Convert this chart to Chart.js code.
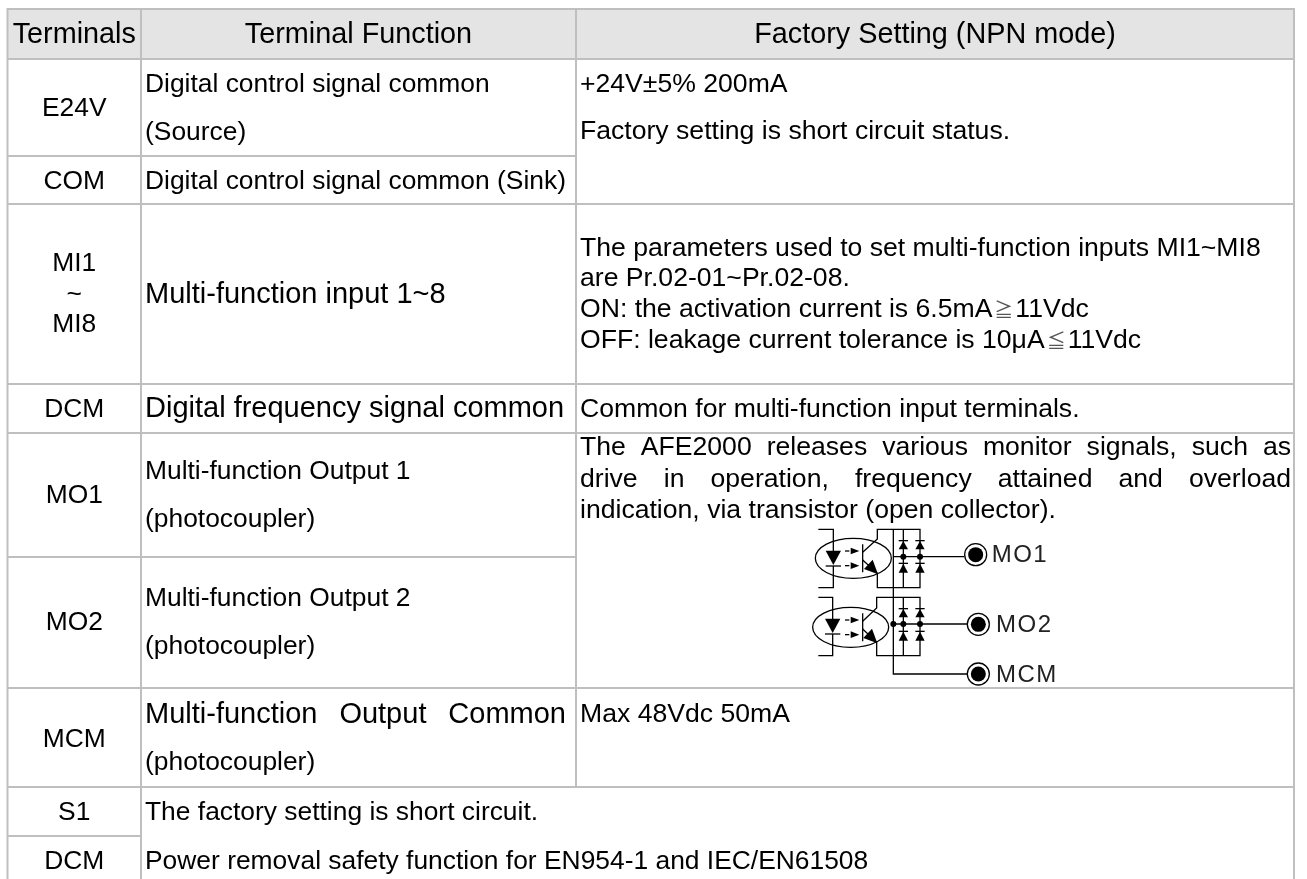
<!DOCTYPE html>
<html>
<head>
<meta charset="utf-8">
<title>Terminals</title>
<script src="https://cdn.jsdelivr.net/npm/chart.js@4/dist/chart.umd.js"></script>
<style>
body { margin: 0; background: #fff; }
canvas { display: block; }
</style>
</head>
<body>
<canvas id="myChart" width="1307" height="879"></canvas>
<script>
// table rulings
var colEdges = [7.5, 141, 576, 1294];
var rowEdges = [9, 59, 156, 204, 384, 433, 557, 688, 787, 836, 879];
// which column edge each horizontal rule runs to
var ruleEnds = [3, 3, 2, 3, 3, 3, 2, 3, 3, 1];

var headers = ['Terminals', 'Terminal Function', 'Factory Setting (NPN mode)'];

var terminals = ['E24V', 'COM', 'MI1', '~', 'MI8', 'DCM', 'MO1', 'MO2', 'MCM', 'S1', 'DCM'];
var terminalBase = [116, 189, 271, 302, 332, 417, 503, 630, 747, 820, 869];

var functionLines = [
    'Digital control signal common', '(Source)', 'Digital control signal common (Sink)',
    'Multi-function input 1~8', 'Digital frequency signal common',
    'Multi-function Output 1', '(photocoupler)', 'Multi-function Output 2', '(photocoupler)',
    'Multi-function Output Common', '(photocoupler)',
    'The factory setting is short circuit.', 'Power removal safety function for EN954-1 and IEC/EN61508'
];
var functionBase = [92, 140, 189, 303, 417, 479, 527, 606, 654, 723, 770, 820, 869];
var functionSize = [26.4, 26.4, 26.4, 29, 29, 26.4, 26.4, 26.4, 26.4, 29, 26.4, 26.4, 26.4];

var settingLines = [
    '+24V±5% 200mA', 'Factory setting is short circuit status.',
    'The parameters used to set multi-function inputs MI1~MI8', 'are Pr.02-01~Pr.02-08.',
    'ON: the activation current is 6.5mA≧11Vdc', 'OFF: leakage current tolerance is 10μA≦11Vdc',
    'Common for multi-function input terminals.',
    'The AFE2000 releases various monitor signals, such as',
    'drive in operation, frequency attained and overload',
    'indication, via transistor (open collector).',
    'Max 48Vdc 50mA'
];
var settingBase = [92, 139, 256, 286, 317, 348, 417, 455, 487, 518, 722];
var settingJustified = [false, false, false, false, false, false, false, true, true, false, false];

var outputLabels = ['MO1', 'MO2', 'MCM'];

var fontFamily = '"Liberation Sans", "Noto Sans CJK JP", sans-serif';

// rulings go in as one broken line, NaN leaves the gaps
var ruleData = [];
for (var i = 0; i < ruleEnds.length; i++) {
    ruleData.push({x: colEdges[0] - 1, y: rowEdges[i]});
    ruleData.push({x: colEdges[ruleEnds[i]] + 1, y: rowEdges[i]});
    ruleData.push({x: NaN, y: NaN});
}
var colBottoms = [10, 10, 8, 10];
for (var c = 0; c < colEdges.length; c++) {
    ruleData.push({x: colEdges[c], y: rowEdges[0]});
    ruleData.push({x: colEdges[c], y: rowEdges[colBottoms[c]]});
    ruleData.push({x: NaN, y: NaN});
}

var headerBand = [
    {x: colEdges[0], y: rowEdges[0]},
    {x: colEdges[3], y: rowEdges[0]}
];

function drawLine(ctx, text, x, y, size, align, fitTo) {
    ctx.font = size + 'px ' + fontFamily;
    ctx.textAlign = align;
    if (fitTo) {
        // spread the words out to fill the cell
        var words = text.split(' ');
        var used = 0;
        for (var i = 0; i < words.length; i++) used += ctx.measureText(words[i]).width;
        var gap = (fitTo - used) / (words.length - 1);
        var pos = x;
        for (var j = 0; j < words.length; j++) {
            ctx.fillText(words[j], pos, y);
            pos += ctx.measureText(words[j]).width + gap;
        }
        return;
    }
    var sign = text.search(/[≧≦]/);
    if (sign < 0) {
        ctx.fillText(text, x, y);
        return;
    }
    // the comparison signs are small in the original
    var before = text.slice(0, sign);
    ctx.fillText(before, x, y);
    var at = x + ctx.measureText(before).width + 2;
    ctx.font = '19px ' + fontFamily;
    ctx.fillStyle = '#555';
    ctx.fillText(text.charAt(sign), at, y);
    at += ctx.measureText(text.charAt(sign)).width + 2;
    ctx.font = size + 'px ' + fontFamily;
    ctx.fillStyle = '#000';
    ctx.fillText(text.slice(sign + 1), at, y);
}

var tablePlugin = {
    id: 'tableText',
    afterDatasetsDraw: function (chart) {
        var ctx = chart.ctx;
        var sx = chart.scales.x;
        var sy = chart.scales.y;
        var mid = function (c) { return sx.getPixelForValue((colEdges[c] + colEdges[c + 1]) / 2); };
        ctx.save();
        ctx.fillStyle = '#000';
        ctx.textBaseline = 'alphabetic';

        for (var h = 0; h < headers.length; h++) {
            drawLine(ctx, headers[h], mid(h), sy.getPixelForValue(43), 28.8, 'center');
        }
        for (var t = 0; t < terminals.length; t++) {
            drawLine(ctx, terminals[t], mid(0), sy.getPixelForValue(terminalBase[t]), 26.4, 'center');
        }
        var fx = sx.getPixelForValue(colEdges[1] + 4);
        for (var f = 0; f < functionLines.length; f++) {
            var fit = functionLines[f] == 'Multi-function Output Common' ? 421 : 0;
            drawLine(ctx, functionLines[f], fx, sy.getPixelForValue(functionBase[f]), functionSize[f], 'left', fit);
        }
        var rx = sx.getPixelForValue(colEdges[2] + 4);
        for (var s = 0; s < settingLines.length; s++) {
            drawLine(ctx, settingLines[s], rx, sy.getPixelForValue(settingBase[s]), 26.6, 'left', settingJustified[s] ? colEdges[3] - colEdges[2] - 7 : 0);
        }
        drawSchematic(ctx, sx, sy);
        ctx.restore();
    }
};

// output circuit picture, in units of a third of a pixel from its corner
function drawSchematic(ctx, sx, sy) {
    var px = function (u) { return sx.getPixelForValue(760 + u / 3); };
    var py = function (v) { return sy.getPixelForValue(510 + v / 3); };
    var line = function (pts) {
        ctx.beginPath();
        ctx.moveTo(px(pts[0]), py(pts[1]));
        for (var i = 2; i < pts.length; i += 2) ctx.lineTo(px(pts[i]), py(pts[i + 1]));
        ctx.stroke();
    };
    var solid = function (pts) {
        ctx.beginPath();
        ctx.moveTo(px(pts[0]), py(pts[1]));
        for (var i = 2; i < pts.length; i += 2) ctx.lineTo(px(pts[i]), py(pts[i + 1]));
        ctx.closePath();
        ctx.fill();
    };
    var dot = function (u, v, r) {
        ctx.beginPath();
        ctx.arc(px(u), py(v), r, 0, Math.PI * 2);
        ctx.fill();
    };
    var terminal = function (u, v) {
        ctx.beginPath();
        ctx.arc(px(u), py(v), 11, 0, Math.PI * 2);
        ctx.fillStyle = '#fff';
        ctx.fill();
        ctx.stroke();
        ctx.fillStyle = '#000';
        dot(u, v, 7.5);
    };
    var coupler = function (top, ledX, ellX, ellY, boxL, joint) {
        var bottom = top + 175;
        line([175, top, ledX, top, ledX, top + 65]);
        solid([ledX - 23, top + 64, ledX + 23, top + 64, ledX, top + 107]);
        line([ledX - 23, top + 110, ledX + 23, top + 110]);
        line([ledX, top + 110, ledX, bottom, 175, bottom]);
        ctx.beginPath();
        ctx.ellipse(px(ellX), py(ellY), 38, 20, 0, 0, Math.PI * 2);
        ctx.stroke();
        var ay = [ellY - 22, ellY + 22];
        for (var a = 0; a < 2; a++) {
            line([255, ay[a], 268, ay[a]]);
            solid([272, ay[a] - 10, 298, ay[a], 272, ay[a] + 10]);
        }
        line([308, ellY - 42, 308, ellY + 42]);
        line([308, ellY - 18, boxL, ellY - 58, boxL, top, 480, top, 480, bottom, boxL, bottom, boxL, ellY + 45, 308, ellY + 5]);
        solid([boxL + 2, ellY + 48, boxL - 14, ellY + 4, boxL - 40, ellY + 32]);
        line([430, top, 430, bottom]);
        var diodes = [430, 480];
        for (var d = 0; d < 2; d++) {
            var u = diodes[d];
            line([u - 14, top + 34, u + 14, top + 34]);
            solid([u - 14, top + 60, u + 14, top + 60, u, top + 35]);
            line([u - 14, top + 102, u + 14, top + 102]);
            solid([u - 14, top + 130, u + 14, top + 130, u, top + 103]);
            dot(u, joint, 3);
        }
    };

    ctx.save();
    ctx.strokeStyle = '#000';
    ctx.fillStyle = '#000';
    ctx.lineWidth = 1.3;
    coupler(58, 220, 280, 145, 352, 140);
    coupler(262, 218, 272, 352, 350, 342);
    dot(400, 342, 3);
    line([400, 58, 400, 492, 622, 492]);
    line([400, 140, 612, 140]);
    line([400, 342, 622, 342]);
    terminal(647, 134);
    terminal(655, 343);
    terminal(655, 492);

    ctx.fillStyle = '#222';
    ctx.textAlign = 'left';
    ctx.font = '24px ' + fontFamily;
    ctx.letterSpacing = '1.5px';
    ctx.fillText(outputLabels[0], px(695), py(155));
    ctx.fillText(outputLabels[1], px(708), py(367));
    ctx.fillText(outputLabels[2], px(708), py(516));
    ctx.letterSpacing = '0px';
    ctx.restore();
}

var ctx = document.getElementById('myChart');

var chart = new Chart(ctx, {
    type: 'scatter',
    data: {
        datasets: [
            {
                data: headerBand,
                order: 2,
                showLine: true,
                fill: {target: {value: rowEdges[1]}},
                backgroundColor: '#e4e4e4',
                borderWidth: 0,
                pointRadius: 0
            },
            {
                data: ruleData,
                order: 1,
                showLine: true,
                spanGaps: false,
                borderColor: '#bfbfbf',
                borderWidth: 2,
                pointRadius: 0
            }
        ]
    },
    options: {
        responsive: false,
        animation: false,
        layout: {padding: 0},
        plugins: {legend: {display: false}, tooltip: {enabled: false}, filler: {drawTime: 'beforeDatasetsDraw'}},
        scales: {
            x: {type: 'linear', min: 0, max: 1307, display: false},
            y: {type: 'linear', min: 0, max: 879, reverse: true, display: false}
        }
    },
    plugins: [tablePlugin]
});
</script>
</body>
</html>
